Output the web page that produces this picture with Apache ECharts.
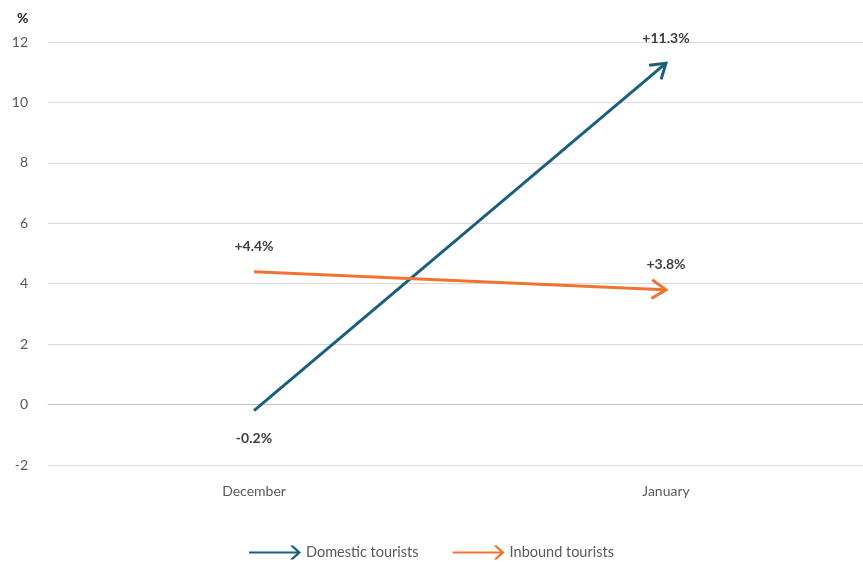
<!DOCTYPE html>
<html>
<head>
<meta charset="utf-8">
<script src="https://cdn.jsdelivr.net/npm/echarts@6/dist/echarts.min.js"></script>
<style>
  html, body { margin: 0; padding: 0; background: #fff; }
  #chart { width: 863px; height: 568px; }
</style>
</head>
<body>
<div id="chart"></div>
<script>
// Month-on-month change in tourist numbers (%)
const months = ['December', 'January'];
const domestic = [-0.2, 11.3];
const inbound = [4.4, 3.8];
const yTicks = [-2, 0, 2, 4, 6, 8, 10, 12];

const BLUE = '#1b5f7e';
const ORANGE = '#ef7430';
const FONT = 'Lato, "Open Sans", sans-serif';

// Arrow legend icon: shaft plus open chevron head
const arrowIcon = 'path://M0,5.9 L49,5.9 L49,8.1 L0,8.1 Z M41,0 L44.2,0 L52,7 L44.2,14 L41,14 L48.6,7 Z';

function fmt(v) {
  return (v > 0 ? '+' : '') + v.toFixed(1) + '%';
}

// Draws the value label at each point, and the arrow from the first month to the second
function arrowRenderer(values, color) {
  return function (params, api) {
    const i = params.dataIndex;
    const v = values[i];
    const p = api.coord([i, v]);
    const children = [];
    if (i === values.length - 1) {
      const p0 = api.coord([i - 1, values[i - 1]]);
      const ang = Math.atan2(p[1] - p0[1], p[0] - p0[0]);
      const L = 17, a = 0.58;
      const w1 = [p[0] - L * Math.cos(ang - a), p[1] - L * Math.sin(ang - a)];
      const w2 = [p[0] - L * Math.cos(ang + a), p[1] - L * Math.sin(ang + a)];
      children.push({
        type: 'line',
        shape: { x1: p0[0], y1: p0[1], x2: p[0] - 1.5 * Math.cos(ang), y2: p[1] - 1.5 * Math.sin(ang) },
        style: { stroke: color, lineWidth: 3 }
      });
      children.push({
        type: 'polyline',
        shape: { points: [w1, p, w2] },
        style: { stroke: color, lineWidth: 3, fill: null, lineJoin: 'miter' }
      });
    }
    const below = v < 0;
    children.push({
      type: 'text',
      style: {
        text: fmt(v),
        x: p[0],
        y: p[1] + (below ? 28 : -25),
        align: 'center',
        verticalAlign: 'middle',
        fill: '#404040',
        font: 'bold 14px ' + FONT
      }
    });
    return { type: 'group', children: children };
  };
}

const chart = echarts.init(document.getElementById('chart'));
chart.setOption({
  animation: false,
  backgroundColor: '#fff',
  title: {
    text: '%',
    left: 12,
    top: 6,
    textStyle: { fontFamily: FONT, fontSize: 14, fontWeight: 'bold', color: '#262626' }
  },
  grid: { left: 48, top: 42, width: 824, height: 423, outerBoundsMode: 'none', containLabel: false },
  legend: {
    bottom: 3,
    left: 'center',
    itemWidth: 52,
    itemHeight: 14,
    itemGap: 34,
    textStyle: { fontFamily: FONT, fontSize: 14.5, color: '#595959' },
    data: [
      { name: 'Domestic tourists', icon: arrowIcon, itemStyle: { color: BLUE } },
      { name: 'Inbound tourists', icon: arrowIcon, itemStyle: { color: ORANGE } }
    ]
  },
  xAxis: {
    type: 'category',
    data: months,
    boundaryGap: true,
    axisTick: { show: false },
    axisLine: { show: true, onZero: true, lineStyle: { color: '#bfbfbf', width: 1 } },
    axisLabel: { margin: 19, fontFamily: FONT, fontSize: 14, color: '#595959' }
  },
  yAxis: {
    type: 'value',
    min: yTicks[0],
    max: yTicks[yTicks.length - 1],
    interval: 2,
    axisLine: { show: false },
    axisTick: { show: false },
    splitLine: { lineStyle: { color: '#d9d9d9', width: 1 } },
    axisLabel: { margin: 20, fontFamily: FONT, fontSize: 14, color: '#595959' }
  },
  series: [
    {
      name: 'Domestic tourists',
      type: 'custom',
      data: domestic,
      itemStyle: { color: BLUE },
      renderItem: arrowRenderer(domestic, BLUE)
    },
    {
      name: 'Inbound tourists',
      type: 'custom',
      data: inbound,
      itemStyle: { color: ORANGE },
      renderItem: arrowRenderer(inbound, ORANGE)
    }
  ]
});
</script>
</body>
</html>
